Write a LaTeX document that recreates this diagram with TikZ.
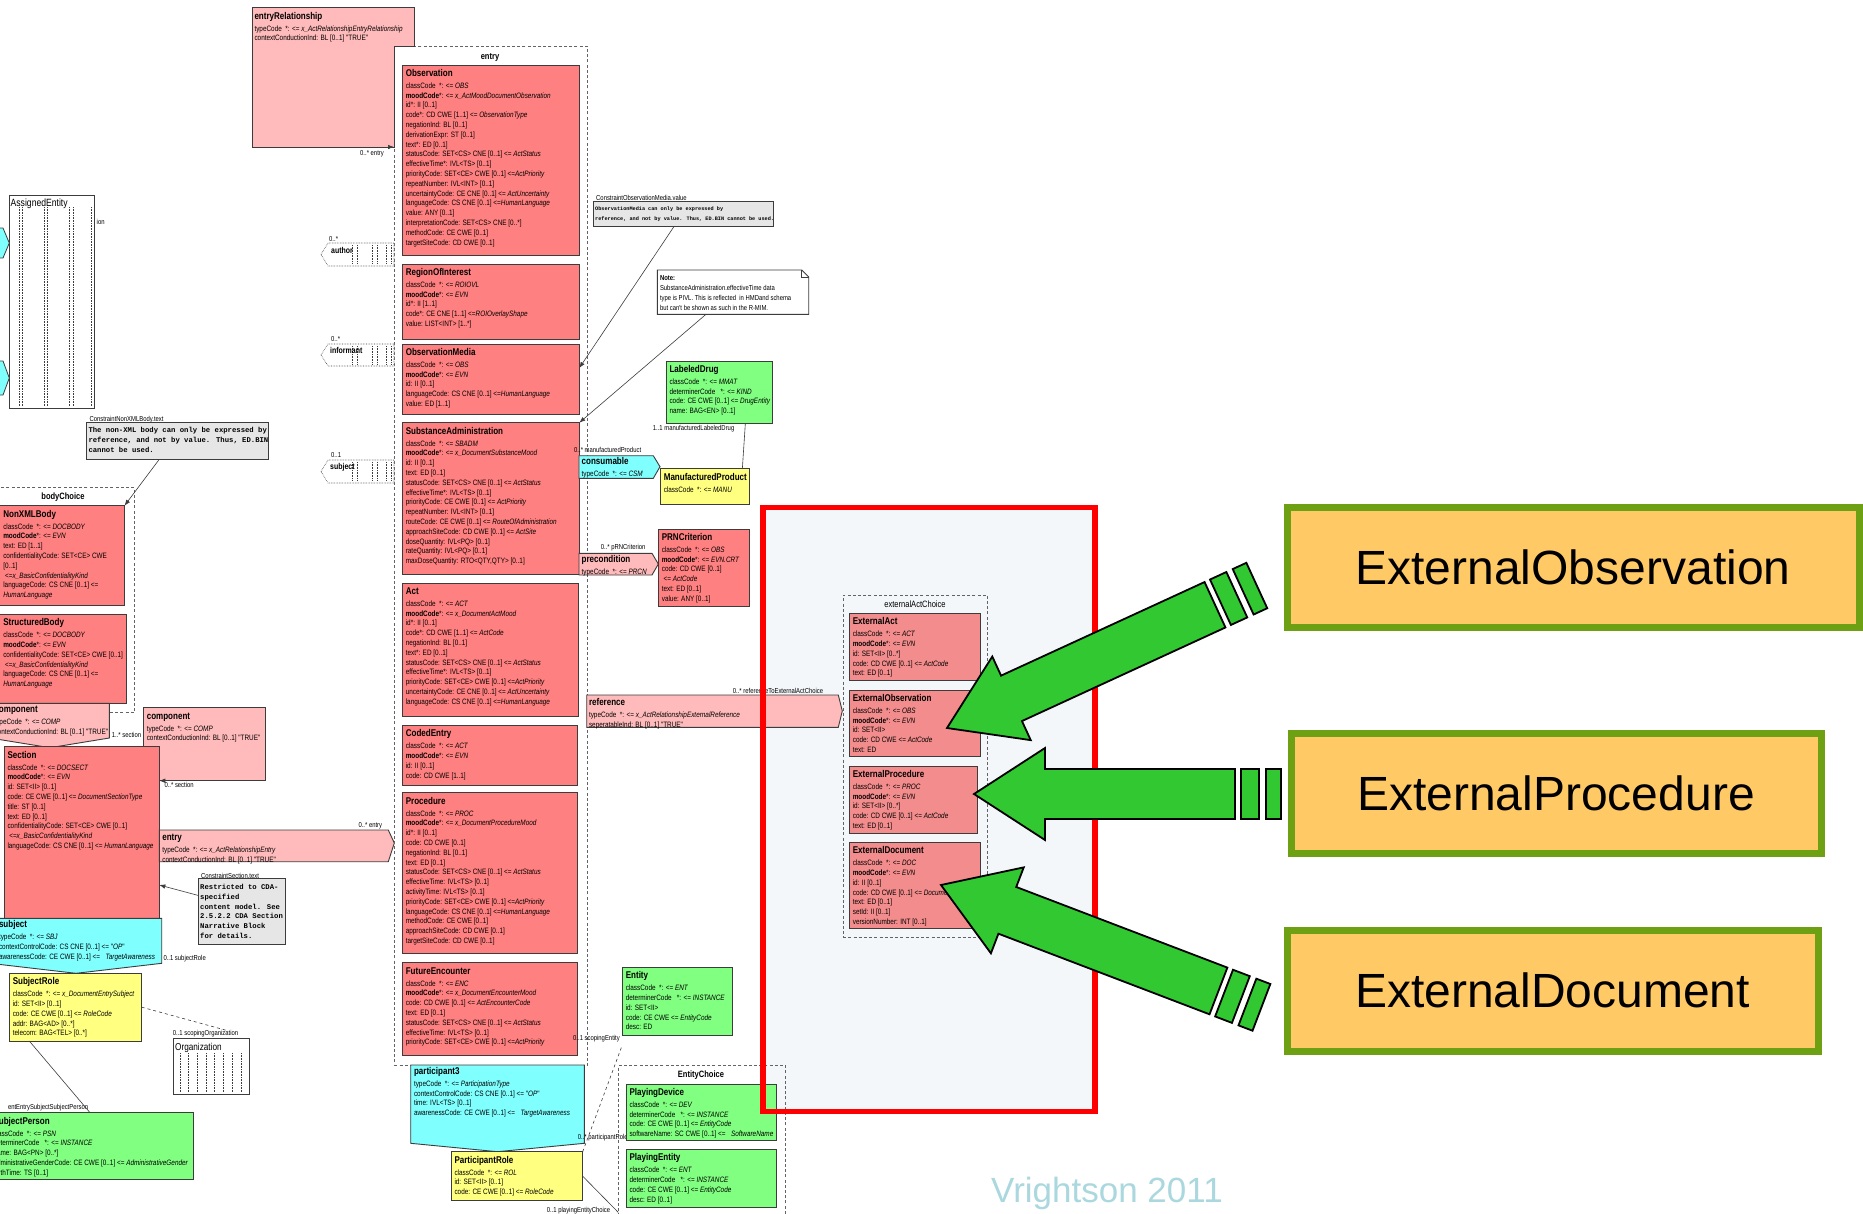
\documentclass[tikz,border=0pt]{standalone}
\usepackage{fontspec}
\usetikzlibrary{arrows.meta}

\newfontfamily\rmimfont[FakeStretch=0.82]{Liberation Sans}
\newfontfamily\codefont{Liberation Mono}
\newfontfamily\slidefont{Liberation Sans}

\definecolor{actred}{RGB}{255,128,128}
\definecolor{extred}{RGB}{243,140,140}
\definecolor{relpink}{RGB}{255,187,187}
\definecolor{partcyan}{RGB}{128,255,255}
\definecolor{roleyellow}{RGB}{255,255,128}
\definecolor{entgreen}{RGB}{128,255,128}
\definecolor{notegray}{RGB}{230,230,230}
\definecolor{edgegray}{RGB}{60,60,60}
\definecolor{framered}{RGB}{255,0,0}
\definecolor{hazefill}{RGB}{244,247,249}
\definecolor{calloutfill}{RGB}{255,201,102}
\definecolor{calloutedge}{RGB}{110,160,20}
\definecolor{arrowgreen}{RGB}{50,200,50}
\definecolor{markteal}{RGB}{170,216,222}

\tikzset{
  cls/.style={draw=edgegray, line width=0.9pt, anchor=north west, inner sep=0pt, outer sep=0pt},
  attrtxt/.style={anchor=north west, inner sep=0pt, outer sep=0pt, align=left,
    font=\rmimfont\fontsize{7.8}{9.8}\selectfont},
  lbl/.style={inner sep=0pt, font=\rmimfont\fontsize{7.2}{8}\selectfont},
  shapeline/.style={draw=edgegray, line width=0.9pt},
  choicebox/.style={draw=edgegray!80, dash pattern=on 3pt off 2.2pt, line width=0.8pt,
    anchor=north west, inner sep=0pt},
  choicettl/.style={inner sep=0pt, font=\rmimfont\fontsize{9.2}{10}\selectfont\bfseries},
  notebox/.style={draw=edgegray, line width=0.9pt, fill=notegray, anchor=north west, inner sep=0pt},
  monotxt/.style={anchor=north west, inner sep=0pt, align=left,
    font=\codefont\bfseries\fontsize{7.25}{9.9}\selectfont},
  link/.style={draw=edgegray, line width=0.6pt},
  linkarrow/.style={-{Latex[length=6pt,width=4.5pt]}},
  ghostline/.style={draw=edgegray, densely dotted, line width=0.6pt},
  ghostttl/.style={inner sep=0pt, font=\rmimfont\fontsize{8.5}{9}\selectfont\bfseries},
  slidearrow/.style={fill=arrowgreen, draw=black, line width=1.8pt, line join=miter},
  callout/.style={draw=calloutedge, fill=calloutfill, line width=7pt, inner sep=0pt,
    font=\slidefont\fontsize{48}{50}\selectfont},
}

% class title line followed by the attribute lines
\newcommand\ttl[1]{\rule{0pt}{9pt}{\fontsize{9.8}{11}\selectfont\bfseries #1}\\[2pt]}
\newcommand\mood{\textbf{moodCode}}

% name, fill, x, y, width, height, text
\newcommand\clsbox[7]{%
  \node[cls, fill=#2, minimum width=#5pt, minimum height=#6pt] (#1) at (#3,#4) {};
  \node[attrtxt] (#1-txt) at ([xshift=3.5pt,yshift=-2.5pt]#1.north west) {#7};%
}

% striped block arrow: tip x, tip y, angle, length
\newcommand\stripedarrow[4]{%
  \begin{scope}[shift={(#1,#2)}, rotate=#3, x=1pt, y=1pt]
    \filldraw[slidearrow] (0,0) -- (71,46) -- (71,25) -- (#4-46,25) -- (#4-46,-25)
      -- (71,-25) -- (71,-46) -- cycle;
    \filldraw[slidearrow] (#4-40,25) rectangle (#4-22,-25);
    \filldraw[slidearrow] (#4-15,25) rectangle (#4,-25);
  \end{scope}}

\begin{document}
\begin{tikzpicture}[x=1pt,y=-1pt]
\useasboundingbox (0,0) rectangle (1863,1213);
\clip (0,0) rectangle (1863,1213);
\fill[white] (0,0) rectangle (1863,1213);

% highlighted region behind the external act choice
\fill[hazefill] (763,507.5) rectangle (1095,1111.5);

% ---------------- left column: document body and section ----------------
% AssignedEntity (collapsed)
\node[cls, line width=0.8pt, minimum width=85pt, minimum height=213pt] (assigned) at (9,195) {};
\foreach \gx in {19,22,44,47,69,73,91} \draw[ghostline] (\gx,207) -- (\gx,406);
\node[inner sep=0pt, anchor=west, font=\rmimfont\fontsize{10.5}{11}\selectfont] (assigned-ttl) at (10.5,204) {AssignedEntity};
\node[lbl, anchor=west] (assigned-lbl) at (96.5,222.3) {ion};
\filldraw[fill=partcyan, draw=edgegray, line width=0.8pt] (-5,228) -- (3,228) -- (9.3,243) -- (3,258) -- (-5,258) -- cycle;
\filldraw[fill=partcyan, draw=edgegray, line width=0.8pt] (-5,361) -- (3,361) -- (9.3,378) -- (3,395) -- (-5,395) -- cycle;

% note on the non-XML body
\node[lbl, anchor=west] (cnx-lbl) at (89.3,419.3) {ConstraintNonXMLBody.text};
\node[notebox, minimum width=182.3pt, minimum height=37pt] (cnx) at (86,422.3) {};
\node[monotxt] (cnx-txt) at (88.3,425.2) {\rule{0pt}{7pt}The non-XML body can only be expressed by\\reference, and not by value. Thus, ED.BIN\\cannot be used.};

% bodyChoice
\node[choicebox, minimum width=144pt, minimum height=225pt] (bodychoice) at (-10,487.3) {};
\node[choicettl] (bodychoice-ttl) at (63,497) {bodyChoice};

\clsbox{nonxml}{actred}{-0.2}{505.7}{124.7}{99.3}{\ttl{NonXMLBody}classCode~~*: <= \textit{DOCBODY}\\
\mood*: <= \textit{EVN}\\text: ED [1..1]\\confidentialityCode: SET<CE> CWE\\{[}0..1]\\
~<=\textit{x\_BasicConfidentialityKind}\\languageCode: CS CNE [0..1] <=\\\textit{HumanLanguage}}

\clsbox{structbody}{actred}{-0.2}{614.3}{126.9}{89}{\ttl{StructuredBody}classCode~~*: <= \textit{DOCBODY}\\
\mood*: <= \textit{EVN}\\confidentialityCode: SET<CE> CWE [0..1]\\~<=\textit{x\_BasicConfidentialityKind}\\
languageCode: CS CNE [0..1] <=\\\textit{HumanLanguage}}

\draw[link, linkarrow] ([xshift=-19pt]cnx.south) -- (nonxml.north east);

% component (body to section)
\filldraw[shapeline, fill=relpink] (-10,703.3) -- (109.3,703.3) -- (109.3,738) -- (50,747.7) -- (-10,738) -- cycle;
\node[attrtxt] (comp1-txt) at (-5.5,703.8) {\ttl{component}typeCode~~*: <= \textit{COMP}\\contextConductionInd: BL [0..1] "TRUE"};
\node[lbl, anchor=west] (comp1-lbl) at (111.7,735) {1..* section};

% component (section to section)
\clsbox{comp2}{relpink}{143.3}{707.7}{122}{73}{\ttl{component}typeCode~~*: <= \textit{COMP}\\contextConductionInd: BL [0..1] "TRUE"}

% Section
\clsbox{sect}{actred}{4}{746.7}{155.3}{173}{\ttl{Section}classCode~~*: <= \textit{DOCSECT}\\
\mood*: <= \textit{EVN}\\id: SET<II> [0..1]\\code: CE CWE [0..1] <= \textit{DocumentSectionType}\\
title: ST [0..1]\\text: ED [0..1]\\confidentialityCode: SET<CE> CWE [0..1]\\
~<=\textit{x\_BasicConfidentialityKind}\\languageCode: CS CNE [0..1] <= \textit{HumanLanguage}}
\coordinate (comp2-foot) at ([xshift=25pt]comp2.south west);
\draw[link, linkarrow] (comp2-foot) -- (comp2-foot -| sect.east);
\node[lbl, anchor=west] (comp2-lbl) at (164.3,785) {0..* section};

% entry (section to entry choice)
\filldraw[shapeline, fill=relpink] (159.3,830) -- (388.3,830) -- (394.3,843) -- (388.3,861.7) -- (159.3,861.7) -- cycle;
\node[attrtxt] (secentry-txt) at (162.3,831.8) {\ttl{entry}typeCode~~*: <= \textit{x\_ActRelationshipEntry}\\contextConductionInd: BL [0..1] "TRUE"};
\node[lbl, anchor=west] (secentry-lbl) at (358.3,826) {0..* entry};

% note on the section text
\node[lbl, anchor=west] (csec-lbl) at (201,876) {ConstraintSection.text};
\node[notebox, minimum width=86.7pt, minimum height=66pt] (csec) at (198.3,878.3) {};
\node[monotxt, font=\codefont\bfseries\fontsize{7.25}{9.8}\selectfont] (csec-txt) at (200,882.2) {\rule{0pt}{7pt}Restricted to CDA-\\specified\\content model. See\\2.5.2.2 CDA Section\\Narrative Block\\for details.};
\draw[link, linkarrow] ([yshift=16.3pt]csec.west) -- ([yshift=-51.8pt]sect.east);

% subject (section to subject role)
\filldraw[shapeline, fill=partcyan] (-10,918.3) -- (161.7,918.3) -- (161.7,963.3) -- (76,973.3) -- (-10,963.3) -- cycle;
\node[attrtxt] (subj-txt) at (-1,918.8) {\ttl{subject}typeCode~~*: <= \textit{SBJ}\\contextControlCode: CS CNE [0..1] <= "\textit{OP}"\\awarenessCode: CE CWE [0..1] <=~~~\textit{TargetAwareness}};
\node[lbl, anchor=west] (subj-lbl) at (163.3,958.3) {0..1 subjectRole};

\clsbox{subrole}{roleyellow}{9.3}{973.3}{132.4}{67.7}{\ttl{SubjectRole}classCode~~*: <= \textit{x\_DocumentEntrySubject}\\
id: SET<II> [0..1]\\code: CE CWE [0..1] <= \textit{RoleCode}\\addr: BAG<AD> [0..*]\\telecom: BAG<TEL> [0..*]}

% Organization (collapsed)
\node[cls, line width=0.7pt, minimum width=76pt, minimum height=56pt, fill=white] (org) at (173.3,1038.3) {};
\foreach \gx in {180,188,197,206,214,223,232,241} \draw[ghostline] (\gx,1053) -- (\gx,1092);
\node[inner sep=0pt, anchor=west, font=\rmimfont\fontsize{10}{11}\selectfont] (org-ttl) at (175,1047.7) {Organization};
\node[lbl, anchor=west] (org-lbl) at (172.7,1034) {0..1 scopingOrganization};
\draw[link, dashed] (subrole.east) -- ([xshift=15pt,yshift=8pt]org.north);

\clsbox{subper}{entgreen}{-10}{1112.7}{203.3}{66.6}{\ttl{SubjectPerson}classCode~~*: <= \textit{PSN}\\
determinerCode~~~*: <= \textit{INSTANCE}\\name: BAG<PN> [0..*]\\
administrativeGenderCode: CE CWE [0..1] <= \textit{AdministrativeGender}\\birthTime: TS [0..1]}
\node[lbl, anchor=east] (subper-lbl) at (88.3,1107.3) {entEntrySubjectSubjectPerson};
\draw[link] ([xshift=-46.2pt]subrole.south) -- ([xshift=-1.6pt]subper.north);

% ---------------- entry relationship and entry choice ----------------
\node[choicebox, minimum width=193pt, minimum height=1019pt] (entrybox) at (394,46) {};
\node[choicettl] (entrybox-ttl) at (490,57) {entry};

\filldraw[shapeline, fill=relpink] (252,7) -- (414,7) -- (414,46) -- (394,46) -- (394,147) -- (252,147) -- cycle;
\node[attrtxt] (erel-txt) at (254.5,10.2) {\ttl{entryRelationship}typeCode~~*: <= \textit{x\_ActRelationshipEntryRelationship}\\contextConductionInd: BL [0..1] "TRUE"};
\coordinate (erel-tail) at (386,147);
\draw[link, linkarrow] (erel-tail) -- (erel-tail -| entrybox.west);
\node[lbl, anchor=west] (erel-lbl) at (360,154) {0..* entry};

% collapsed participations on the left of the entry choice
\draw[ghostline, fill=white] (321,254.5) -- (328,243) -- (394,243) -- (394,266) -- (328,266) -- cycle;
\foreach \gx in {352,357,372,377,386,391} \draw[ghostline] (\gx,245) -- (\gx,264);
\node[ghostttl, anchor=west] (author-ttl) at (331,250) {author};
\node[lbl, anchor=west] (author-lbl) at (329,239) {0..*};

\draw[ghostline, fill=white] (321,355) -- (328,344) -- (394,344) -- (394,366) -- (328,366) -- cycle;
\foreach \gx in {352,357,372,377,386,391} \draw[ghostline] (\gx,346) -- (\gx,364);
\node[ghostttl, anchor=west] (informant-ttl) at (330,350.5) {informant};
\node[lbl, anchor=west] (informant-lbl) at (331,339) {0..*};

\draw[ghostline, fill=white] (321,471.5) -- (328,460) -- (394,460) -- (394,483) -- (328,483) -- cycle;
\foreach \gx in {352,357,372,377,386,391} \draw[ghostline] (\gx,462) -- (\gx,481);
\node[ghostttl, anchor=west] (subjghost-ttl) at (330,467) {subject};
\node[lbl, anchor=west] (subjghost-lbl) at (331,455) {0..1};

\clsbox{obs}{actred}{402.3}{65}{177}{190}{\ttl{Observation}classCode~~*: <= \textit{OBS}\\
\mood*: <= \textit{x\_ActMoodDocumentObservation}\\id*: II [0..1]\\
code*: CD CWE [1..1] <= \textit{ObservationType}\\negationInd: BL [0..1]\\derivationExpr: ST [0..1]\\
text*: ED [0..1]\\statusCode: SET<CS> CNE [0..1] <= \textit{ActStatus}\\effectiveTime*: IVL<TS> [0..1]\\
priorityCode: SET<CE> CWE [0..1] <=\textit{ActPriority}\\repeatNumber: IVL<INT> [0..1]\\
uncertaintyCode: CE CNE [0..1] <= \textit{ActUncertainty}\\languageCode: CS CNE [0..1] <=\textit{HumanLanguage}\\
value: ANY [0..1]\\interpretationCode: SET<CS> CNE [0..*]\\methodCode: CE CWE [0..1]\\targetSiteCode: CD CWE [0..1]}

\clsbox{roi}{actred}{402.3}{264}{177}{75}{\ttl{RegionOfInterest}classCode~~*: <= \textit{ROIOVL}\\
\mood*: <= \textit{EVN}\\id*: II [1..1]\\code*: CE CNE [1..1] <=\textit{ROIOverlayShape}\\value: LIST<INT> [1..*]}

\clsbox{omed}{actred}{402.3}{344}{177}{70}{\ttl{ObservationMedia}classCode~~*: <= \textit{OBS}\\
\mood*: <= \textit{EVN}\\id: II [0..1]\\languageCode: CS CNE [0..1] <=\textit{HumanLanguage}\\value: ED [1..1]}

\clsbox{sbadm}{actred}{402.3}{422.7}{177}{151.3}{\ttl{SubstanceAdministration}classCode~~*: <= \textit{SBADM}\\
\mood*: <= \textit{x\_DocumentSubstanceMood}\\id: II [0..1]\\text: ED [0..1]\\
statusCode: SET<CS> CNE [0..1] <= \textit{ActStatus}\\effectiveTime*: IVL<TS> [0..1]\\
priorityCode: CE CWE [0..1] <= \textit{ActPriority}\\repeatNumber: IVL<INT> [0..1]\\
routeCode: CE CWE [0..1] <= \textit{RouteOfAdministration}\\approachSiteCode: CD CWE [0..1] <= \textit{ActSite}\\
doseQuantity: IVL<PQ> [0..1]\\rateQuantity: IVL<PQ> [0..1]\\maxDoseQuantity: RTO<QTY,QTY> [0..1]}

\clsbox{act}{actred}{402.3}{583}{176.4}{133}{\ttl{Act}classCode~~*: <= \textit{ACT}\\
\mood*: <= \textit{x\_DocumentActMood}\\id*: II [0..1]\\code*: CD CWE [1..1] <= \textit{ActCode}\\
negationInd: BL [0..1]\\text*: ED [0..1]\\statusCode: SET<CS> CNE [0..1] <= \textit{ActStatus}\\
effectiveTime*: IVL<TS> [0..1]\\priorityCode: SET<CE> CWE [0..1] <=\textit{ActPriority}\\
uncertaintyCode: CE CNE [0..1] <= \textit{ActUncertainty}\\languageCode: CS CNE [0..1] <=\textit{HumanLanguage}}

\clsbox{coded}{actred}{402.3}{725.3}{175}{59.7}{\ttl{CodedEntry}classCode~~*: <= \textit{ACT}\\
\mood*: <= \textit{EVN}\\id: II [0..1]\\code: CD CWE [1..1]}

\clsbox{proc}{actred}{402.3}{792.7}{175}{160.6}{\ttl{Procedure}classCode~~*: <= \textit{PROC}\\
\mood*: <= \textit{x\_DocumentProcedureMood}\\id*: II [0..1]\\code: CD CWE [0..1]\\negationInd: BL [0..1]\\
text: ED [0..1]\\statusCode: SET<CS> CNE [0..1] <= \textit{ActStatus}\\effectiveTime: IVL<TS> [0..1]\\
activityTime: IVL<TS> [0..1]\\priorityCode: SET<CE> CWE [0..1] <=\textit{ActPriority}\\
languageCode: CS CNE [0..1] <=\textit{HumanLanguage}\\methodCode: CE CWE [0..1]\\
approachSiteCode: CD CWE [0..1]\\targetSiteCode: CD CWE [0..1]}

\clsbox{fenc}{actred}{402.3}{962.7}{175}{93}{\ttl{FutureEncounter}classCode~~*: <= \textit{ENC}\\
\mood*: <= \textit{x\_DocumentEncounterMood}\\code: CD CWE [0..1] <= \textit{ActEncounterCode}\\
text: ED [0..1]\\statusCode: SET<CS> CNE [0..1] <= \textit{ActStatus}\\effectiveTime: IVL<TS> [0..1]\\
priorityCode: SET<CE> CWE [0..1] <=\textit{ActPriority}}

% participant3 and its role
\filldraw[shapeline, fill=partcyan] (410.7,1065) -- (584.3,1065) -- (584.3,1143.3) -- (497.5,1151.7) -- (410.7,1143.3) -- cycle;
\node[attrtxt] (part3-txt) at (414,1065.5) {\ttl{participant3}typeCode~~*: <= \textit{ParticipationType}\\
contextControlCode: CS CNE [0..1] <= "\textit{OP}"\\time: IVL<TS> [0..1]\\awarenessCode: CE CWE [0..1] <=~~~\textit{TargetAwareness}};
\node[lbl, anchor=west] (part3-lbl) at (577.7,1138) {0..* participantRole};

\clsbox{prole}{roleyellow}{451}{1151.7}{131.7}{49}{\ttl{ParticipantRole}classCode~~*: <= \textit{ROL}\\
id: SET<II> [0..1]\\code: CE CWE [0..1] <= \textit{RoleCode}}

\clsbox{entity}{entgreen}{622.3}{967.3}{110.4}{67.7}{\ttl{Entity}classCode~~*: <= \textit{ENT}\\
determinerCode~~~*: <= \textit{INSTANCE}\\id: SET<II>\\code: CE CWE <= \textit{EntityCode}\\desc: ED}
\node[lbl, anchor=east] (entity-lbl) at (620,1039) {0..1 scopingEntity};
\draw[link, dashed] (prole.north east) -- ([yshift=-10pt]entity.south west);

\node[choicebox, minimum width=166.7pt, minimum height=200pt] (echoice) at (618.3,1065) {};
\node[choicettl] (echoice-ttl) at (701,1075) {EntityChoice};
\clsbox{pdev}{entgreen}{626}{1084}{150.7}{56.7}{\ttl{PlayingDevice}classCode~~*: <= \textit{DEV}\\
determinerCode~~~*: <= \textit{INSTANCE}\\code: CE CWE [0..1] <= \textit{EntityCode}\\
softwareName: SC CWE [0..1] <=~~~\textit{SoftwareName}}
\clsbox{pent}{entgreen}{626}{1149.3}{150.7}{57.7}{\ttl{PlayingEntity}classCode~~*: <= \textit{ENT}\\
determinerCode~~~*: <= \textit{INSTANCE}\\code: CE CWE [0..1] <= \textit{EntityCode}\\desc: ED [0..1]}
\coordinate (echoice-in) at ([yshift=-47pt]echoice.west);
\draw[link] (prole.east) -- (echoice-in);
\node[lbl, anchor=west] (prole-lbl) at (546.7,1211) {0..1 playingEntityChoice};

% ---------------- notes and consumable / precondition ----------------
\node[lbl, anchor=west] (cobs-lbl) at (596,198.3) {ConstraintObservationMedia.value};
\node[notebox, minimum width=180pt, minimum height=25.3pt] (cobs) at (593.3,200.7) {};
\node[monotxt, font=\codefont\bfseries\fontsize{5.2}{9.3}\selectfont] (cobs-txt) at (595,205.1) {\rule{0pt}{5.5pt}ObservationMedia can only be expressed by\\reference, and not by value. Thus, ED.BIN cannot be used.};
\draw[link, linkarrow] ([xshift=-10pt]cobs.south) -- ([yshift=11pt]omed.east);

\filldraw[shapeline, fill=white] (657.3,270) -- (801.7,270) -- (808.7,277) -- (808.7,314.3) -- (657.3,314.3) -- cycle;
\draw[shapeline, line width=0.7pt] (801.7,270) -- (801.7,277) -- (808.7,277);
\coordinate (pivl-note) at (706,314.3);
\node[attrtxt, font=\rmimfont\fontsize{7.2}{10}\selectfont] (pivl-txt) at (660,273) {\rule{0pt}{7pt}\textbf{Note:}\\SubstanceAdministration.effectiveTime data\\type is PIVL. This is reflected~ in HMDand schema\\but can't be shown as such in the R-MIM.};
\draw[link, linkarrow] (pivl-note) -- (sbadm.north east);

\clsbox{ldrug}{entgreen}{666}{361}{106.7}{62.3}{\ttl{LabeledDrug}classCode~~*: <= \textit{MMAT}\\
determinerCode~~~*: <= \textit{KIND}\\code: CE CWE [0..1] <= \textit{DrugEntity}\\name: BAG<EN> [0..1]}
\node[lbl, anchor=west] (ldrug-lbl) at (652.7,428.7) {1..1 manufacturedLabeledDrug};

\clsbox{mprod}{roleyellow}{660.3}{468.7}{88.7}{35.6}{\ttl{ManufacturedProduct}classCode~~*: <= \textit{MANU}}
\draw[link] ([xshift=26pt]ldrug.south) -- ([xshift=37.7pt]mprod.north);

\filldraw[shapeline, fill=partcyan] (579,455.7) -- (653.3,455.7) -- (660,466.7) -- (653.3,478.3) -- (579,478.3) -- cycle;
\node[attrtxt] (cons-txt) at (581.7,455.5) {\ttl{consumable}typeCode~~*: <= \textit{CSM}};
\node[lbl, anchor=west] (cons-lbl) at (574,450) {0..* manufacturedProduct};

\filldraw[shapeline, fill=relpink] (579,553.3) -- (652,553.3) -- (658.3,564) -- (652,575) -- (579,575) -- cycle;
\node[attrtxt] (prec-txt) at (581.7,553.5) {\ttl{precondition}typeCode~~*: <= \textit{PRCN}};
\node[lbl, anchor=west] (prec-lbl) at (600.7,547.7) {0..* pRNCriterion};

\clsbox{prn}{actred}{658.3}{529}{90.7}{77}{\ttl{PRNCriterion}classCode~~*: <= \textit{OBS}\\
\mood*: <= \textit{EVN.CRT}\\code: CD CWE [0..1]\\~<= \textit{ActCode}\\text: ED [0..1]\\value: ANY [0..1]}

% reference to the external act choice
\filldraw[shapeline, fill=relpink] (586.7,695) -- (838.3,695) -- (842.3,711) -- (838.3,727.3) -- (586.7,727.3) -- cycle;
\node[attrtxt] (ref-txt) at (589,696.8) {\ttl{reference}typeCode~~*: <= \textit{x\_ActRelationshipExternalReference}\\seperatableInd: BL [0..1] "TRUE"};
\node[lbl, anchor=west] (ref-lbl) at (732.7,691) {0..* referenceToExternalActChoice};

\node[choicebox, minimum width=144.6pt, minimum height=342.3pt] (extchoice) at (842.7,595) {};
\node[choicettl, font=\rmimfont\fontsize{9.2}{10}\selectfont] (extchoice-ttl) at (915,604.3) {externalActChoice};

\clsbox{extact}{extred}{849.3}{613.3}{130.7}{66.7}{\ttl{ExternalAct}classCode~~*: <= \textit{ACT}\\
\mood*: <= \textit{EVN}\\id: SET<II> [0..*]\\code: CD CWE [0..1] <= \textit{ActCode}\\text: ED [0..1]}
\clsbox{extobs}{extred}{849.3}{690}{130.7}{66.7}{\ttl{ExternalObservation}classCode~~*: <= \textit{OBS}\\
\mood*: <= \textit{EVN}\\id: SET<II>\\code: CD CWE <= \textit{ActCode}\\text: ED}
\clsbox{extproc}{extred}{849.3}{766}{128.4}{67.3}{\ttl{ExternalProcedure}classCode~~*: <= \textit{PROC}\\
\mood*: <= \textit{EVN}\\id: SET<II> [0..*]\\code: CD CWE [0..1] <= \textit{ActCode}\\text: ED [0..1]}
\clsbox{extdoc}{extred}{849.3}{842.3}{130.7}{86}{\ttl{ExternalDocument}classCode~~*: <= \textit{DOC}\\
\mood*: <= \textit{EVN}\\id: II [0..1]\\code: CD CWE [0..1] <= \textit{DocumentType}\\text: ED [0..1]\\
setId: II [0..1]\\versionNumber: INT [0..1]}

% ---------------- highlight frame, arrows and callouts ----------------
\draw[framered, line width=5.5pt] (763,507.5) rectangle (1095,1111.5);

\stripedarrow{947}{728}{24.7}{341}
\stripedarrow{974}{794}{0}{307}
\stripedarrow{941}{885}{-20.9}{343}

\node[callout, minimum width=572pt, minimum height=120pt] (co-obs) at (1573,567) {ExternalObservation};
\node[callout, minimum width=530pt, minimum height=120pt] (co-proc) at (1556,793) {ExternalProcedure};
\node[callout, minimum width=531pt, minimum height=121pt] (co-doc) at (1552.5,990.5) {ExternalDocument};

\node[inner sep=0pt, text=markteal, font=\slidefont\fontsize{35}{38}\selectfont] (wmark) at (1107,1193) {Vrightson 2011};
\end{tikzpicture}
\end{document}
